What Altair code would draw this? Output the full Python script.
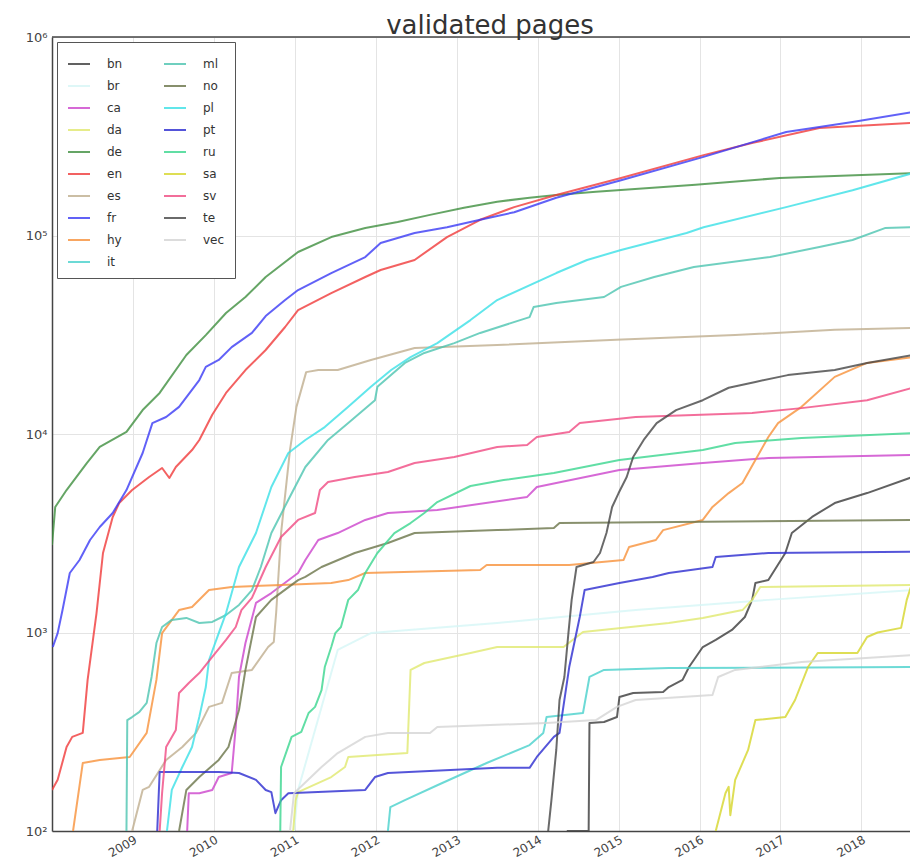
import altair as alt
import pandas as pd

# ---- data (decimal year, validated pages) ----
bn_year = [2014.36, 2014.63, 2014.64, 2014.82, 2014.98, 2015.01, 2015.18, 2015.55, 2015.62, 2015.79, 2015.87, 2016.04,
           2016.20, 2016.40, 2016.56, 2016.65, 2016.69, 2016.85, 2017.06, 2017.14, 2017.39, 2017.67, 2018.07, 2018.63]
bn_val = [100, 100, 350, 354, 375, 473, 496, 501, 531, 577, 670, 845, 917, 1030, 1197, 1460, 1775, 1837, 2515, 3170,
          3820, 4490, 5040, 6070]

br_year = [2010.99, 2011.04, 2011.53, 2011.94, 2013.50, 2015.21, 2016.85, 2018.63]
br_val = [100, 161, 817, 993, 1117, 1297, 1460, 1636]

ca_year = [2009.67, 2009.69, 2009.82, 2009.98, 2010.06, 2010.22, 2010.27, 2010.31, 2010.39, 2010.52, 2010.71, 2011.04,
           2011.13, 2011.29, 2011.53, 2011.87, 2012.15, 2012.76, 2013.87, 2013.99, 2015.01, 2016.04, 2016.85, 2018.63]
ca_val = [100, 155, 155, 161, 187, 196, 334, 597, 885, 1410, 1580, 1994, 2318, 2924, 3170, 3690, 4000, 4140, 4820,
          5410, 6590, 7140, 7570, 7840]

da_year = [2010.98, 2011.01, 2011.04, 2011.45, 2011.62, 2011.66, 2012.39, 2012.43, 2012.60, 2013.17, 2013.50, 2014.32,
           2014.56, 2015.62, 2016.04, 2016.53, 2016.65, 2016.75, 2018.63]
da_val = [100, 143, 157, 187, 210, 236, 247, 648, 702, 788, 845, 845, 1006, 1117, 1184, 1297, 1460, 1695, 1735]

de_year = [2008.00, 2008.04, 2008.18, 2008.43, 2008.59, 2008.92, 2009.12, 2009.33, 2009.66, 2009.90, 2010.15, 2010.39,
           2010.64, 2011.04, 2011.45, 2011.87, 2012.27, 2012.67, 2013.09, 2013.50, 2013.90, 2014.23, 2014.72, 2015.95,
           2016.99, 2018.63]
de_val = [2760, 4290, 5220, 7140, 8610, 10240, 13200, 16100, 25000, 31500, 40700, 49000, 61800, 82600, 98200, 109000,
          117000, 127000, 138000, 148000, 155000, 160000, 166000, 180000, 195000, 206000]

en_year = [2008.00, 2008.07, 2008.18, 2008.25, 2008.38, 2008.44, 2008.55, 2008.63, 2008.75, 2008.83, 2008.99, 2009.20,
           2009.36, 2009.45, 2009.53, 2009.73, 2009.82, 2009.98, 2010.15, 2010.39, 2010.64, 2010.88, 2011.04, 2011.45,
           2011.87, 2012.06, 2012.48, 2012.88, 2013.29, 2013.71, 2014.23, 2015.03, 2016.05, 2016.66, 2017.48, 2018.63]
en_val = [161, 181, 265, 298, 312, 577, 1253, 2515, 3820, 4490, 5220, 6070, 6740, 6000, 6820, 8300, 9330, 12500, 16100,
          21000, 26500, 34600, 42100, 51300, 61800, 67000, 75300, 98200, 120000, 139000, 160000, 195000, 254000, 293000,
          348000, 369000]

es_year = [2008.99, 2009.12, 2009.20, 2009.41, 2009.61, 2009.78, 2009.94, 2010.10, 2010.22, 2010.47, 2010.67, 2010.74,
           2010.77, 2010.83, 2010.94, 2011.02, 2011.14, 2011.29, 2011.53, 2011.94, 2012.48, 2013.50, 2014.97, 2016.44,
           2017.67, 2018.63]
es_val = [100, 161, 167, 228, 265, 312, 422, 442, 625, 648, 845, 896, 1268, 3170, 8300, 13700, 20500, 21000, 21000,
          23600, 27100, 28100, 29800, 31500, 33500, 34200]

fr_year = [2008.01, 2008.07, 2008.13, 2008.22, 2008.34, 2008.47, 2008.59, 2008.75, 2008.92, 2009.12, 2009.24, 2009.41,
           2009.57, 2009.82, 2009.90, 2010.06, 2010.22, 2010.47, 2010.64, 2010.88, 2011.04, 2011.45, 2011.87, 2012.06,
           2012.48, 2012.88, 2013.29, 2013.71, 2014.23, 2015.03, 2016.05, 2017.07, 2017.89, 2018.63]
fr_val = [845, 993, 1297, 1994, 2318, 2924, 3400, 4000, 5220, 8020, 11350, 12180, 13700, 18700, 21800, 23600, 27400,
          32300, 39300, 47300, 53100, 64700, 77900, 91600, 103000, 110000, 120000, 131000, 155000, 190000, 249000,
          332000, 373000, 419000]

hy_year = [2008.26, 2008.38, 2008.59, 2008.96, 2009.17, 2009.29, 2009.36, 2009.57, 2009.73, 2009.94, 2010.22, 2010.83,
           2011.45, 2011.66, 2011.87, 2013.29, 2013.37, 2014.39, 2015.06, 2015.13, 2015.46, 2015.55, 2016.04, 2016.16,
           2016.36, 2016.53, 2016.69, 2016.85, 2016.97, 2017.26, 2017.67, 2018.07, 2018.63]
hy_val = [100, 220, 228, 236, 312, 577, 993, 1297, 1343, 1636, 1695, 1735, 1775, 1837, 1994, 2064, 2188, 2188, 2318,
          2698, 2924, 3280, 3690, 4290, 5040, 5660, 7400, 9660, 11350, 13700, 19400, 22800, 24400]

it_year = [2012.15, 2012.18, 2012.36, 2012.76, 2013.37, 2013.90, 2014.07, 2014.11, 2014.56, 2014.64, 2014.82, 2015.62,
           2018.63]
it_val = [100, 132, 143, 170, 220, 271, 312, 375, 393, 597, 648, 662, 670]

ml_year = [2008.92, 2008.93, 2008.99, 2009.08, 2009.17, 2009.23, 2009.29, 2009.36, 2009.48, 2009.66, 2009.82, 2009.98,
           2010.15, 2010.31, 2010.47, 2010.58, 2010.71, 2010.92, 2011.13, 2011.41, 2011.66, 2011.99, 2012.02, 2012.36,
           2012.60, 2012.97, 2013.29, 2013.90, 2013.95, 2014.23, 2014.82, 2015.03, 2015.44, 2015.93, 2016.87, 2017.48,
           2017.89, 2018.29, 2018.63]
ml_val = [100, 362, 375, 398, 442, 597, 885, 1066, 1157, 1184, 1117, 1131, 1225, 1377, 1636, 2138, 3170, 4660, 6820,
          9330, 11350, 14800, 17300, 22800, 25600, 28700, 32300, 38800, 43600, 45700, 49000, 55100, 61800, 69400,
          77900, 87500, 94900, 109000, 110000]

no_year = [2009.57, 2009.66, 2009.82, 2010.06, 2010.18, 2010.31, 2010.39, 2010.52, 2010.71, 2011.04, 2011.13, 2011.33,
           2011.74, 2012.15, 2012.48, 2013.50, 2014.20, 2014.27, 2018.63]
no_val = [100, 161, 187, 228, 265, 407, 648, 1197, 1460, 1837, 1905, 2138, 2515, 2825, 3170, 3280, 3360, 3560, 3690]

pl_year = [2009.42, 2009.48, 2009.61, 2009.73, 2009.82, 2009.90, 2009.94, 2010.06, 2010.15, 2010.22, 2010.31, 2010.52,
           2010.71, 2010.92, 2011.13, 2011.37, 2011.66, 2011.94, 2012.19, 2012.43, 2012.76, 2013.17, 2013.50, 2014.23,
           2014.61, 2015.03, 2015.84, 2016.05, 2017.07, 2017.89, 2018.63]
pl_val = [100, 161, 210, 265, 375, 531, 727, 993, 1253, 1580, 2138, 3170, 5410, 8020, 9330, 10840, 13700, 17300,
          21000, 24400, 28700, 37500, 47300, 64700, 75300, 84500, 103000, 110000, 139000, 169000, 206000]

pt_year = [2009.30, 2009.33, 2010.06, 2010.31, 2010.52, 2010.64, 2010.71, 2010.76, 2010.83, 2010.92, 2011.87, 2011.99,
           2012.15, 2013.50, 2013.90, 2013.99, 2014.20, 2014.27, 2014.39, 2014.52, 2014.58, 2015.01, 2015.42, 2015.62,
           2016.16, 2016.20, 2016.85, 2018.63]
pt_val = [100, 198, 198, 196, 181, 161, 157, 123, 143, 155, 161, 187, 196, 208, 208, 236, 298, 312, 670, 1197, 1636,
          1775, 1905, 1994, 2138, 2400, 2515, 2550]

ru_year = [2010.82, 2010.83, 2010.96, 2011.08, 2011.17, 2011.25, 2011.33, 2011.37, 2011.45, 2011.50, 2011.57, 2011.66,
           2011.78, 2011.87, 2012.02, 2012.23, 2012.43, 2012.60, 2012.76, 2013.17, 2013.58, 2014.20, 2015.01, 2016.04,
           2016.44, 2017.26, 2018.63]
ru_val = [100, 210, 298, 316, 393, 422, 513, 670, 845, 993, 1066, 1460, 1636, 1994, 2515, 3170, 3560, 4000, 4540, 5470,
          5860, 6360, 7400, 8300, 9010, 9550, 10100]

sa_year = [2016.20, 2016.32, 2016.36, 2016.38, 2016.44, 2016.60, 2016.69, 2017.06, 2017.18, 2017.34, 2017.46, 2017.95,
           2018.07, 2018.20, 2018.49, 2018.56, 2018.63]
sa_val = [100, 155, 167, 120, 181, 256, 362, 375, 457, 670, 788, 788, 949, 1000, 1055, 1460, 1795]

sv_year = [2009.33, 2009.36, 2009.41, 2009.53, 2009.57, 2009.69, 2009.82, 2009.98, 2010.15, 2010.27, 2010.34, 2010.47,
           2010.64, 2010.83, 2011.04, 2011.25, 2011.31, 2011.41, 2011.74, 2012.15, 2012.48, 2012.97, 2013.50, 2013.87,
           2013.99, 2014.39, 2014.52, 2015.21, 2016.65, 2017.26, 2018.07, 2018.63]
sv_val = [100, 155, 265, 323, 496, 557, 625, 753, 917, 1066, 1297, 1493, 2138, 3030, 3690, 4000, 5220, 5730, 6070,
          6440, 7140, 7660, 8610, 8810, 9660, 10240, 11350, 12180, 12760, 13500, 14800, 17100]

te_year = [2014.13, 2014.17, 2014.23, 2014.27, 2014.33, 2014.38, 2014.42, 2014.48, 2014.69, 2014.77, 2014.85, 2014.92,
           2015.00, 2015.10, 2015.18, 2015.31, 2015.47, 2015.71, 2016.04, 2016.36, 2016.69, 2017.09, 2017.67, 2018.07,
           2018.63]
te_val = [100, 143, 256, 457, 597, 993, 1460, 2138, 2266, 2515, 3170, 4290, 5040, 6070, 7660, 9330, 11350, 13200,
          14800, 17100, 18300, 19800, 21000, 22800, 25000]

vec_year = [2010.94, 2010.99, 2011.33, 2011.53, 2011.87, 2012.15, 2012.67, 2012.76, 2014.11, 2014.72, 2014.98, 2015.21,
            2016.16, 2016.23, 2016.44, 2017.26, 2018.63]
vec_val = [100, 155, 210, 247, 298, 312, 312, 334, 350, 362, 422, 457, 484, 597, 648, 710, 770]

langs = ["bn", "br", "ca", "da", "de", "en", "es", "fr", "hy", "it",
         "ml", "no", "pl", "pt", "ru", "sa", "sv", "te", "vec"]
colors = {"bn": "#3a3a3a", "br": "#d6f6f6", "ca": "#cc44cc", "da": "#e0e86e", "de": "#3f8f3f",
          "en": "#f03a3a", "es": "#bfae8e", "fr": "#3a3af5", "hy": "#f7913a", "it": "#48d1cc",
          "ml": "#4cc4b0", "no": "#6a7448", "pl": "#3ae0e6", "pt": "#2a2ad0", "ru": "#3ad68e",
          "sa": "#d6d62a", "sv": "#f04a82", "te": "#454545", "vec": "#d4d4d4"}
widths = {l: 2.0 for l in langs}
widths["it"] = 3.5

series = {
    "bn": (bn_year, bn_val), "br": (br_year, br_val), "ca": (ca_year, ca_val), "da": (da_year, da_val),
    "de": (de_year, de_val), "en": (en_year, en_val), "es": (es_year, es_val), "fr": (fr_year, fr_val),
    "hy": (hy_year, hy_val), "it": (it_year, it_val), "ml": (ml_year, ml_val), "no": (no_year, no_val),
    "pl": (pl_year, pl_val), "pt": (pt_year, pt_val), "ru": (ru_year, ru_val), "sa": (sa_year, sa_val),
    "sv": (sv_year, sv_val), "te": (te_year, te_val), "vec": (vec_year, vec_val),
}

rows = []
for lang in langs:
    ys, vs = series[lang]
    for i, (t, v) in enumerate(zip(ys, vs)):
        rows.append({"lang": lang, "year": t, "pages": v, "idx": i})
df = pd.DataFrame(rows)

FONT = "DejaVu Sans"
FRAME = "#444444"
W, H = 858, 794
ylab = ("datum.value == 100 ? '10²' : datum.value == 1000 ? '10³' : datum.value == 10000 ? '10⁴' : "
        "datum.value == 100000 ? '10⁵' : '10⁶'")

lines = alt.Chart(df).mark_line(clip=True, opacity=0.8, strokeJoin="round").encode(
    x=alt.X("year:Q",
            scale=alt.Scale(domain=[2008.0, 2018.6], nice=False, zero=False),
            axis=alt.Axis(values=list(range(2009, 2019)), format="d", labelAngle=330,
                          labelAlign="right", labelBaseline="top", ticks=False, labelPadding=3,
                          labelFontSize=12, title=None, grid=True, domain=True,
                          domainColor=FRAME, domainWidth=1.5)),
    y=alt.Y("pages:Q",
            scale=alt.Scale(type="log", domain=[100, 1000000], nice=False),
            axis=alt.Axis(values=[100, 1000, 10000, 100000, 1000000], labelExpr=ylab,
                          ticks=False, labelPadding=5, labelFontSize=13, title=None, grid=True,
                          domain=True, domainColor=FRAME, domainWidth=1.5)),
    color=alt.Color("lang:N",
                    scale=alt.Scale(domain=langs, range=[colors[l] for l in langs]),
                    legend=alt.Legend(title=None, orient="none", legendX=5, legendY=5, columns=2,
                                      symbolType="stroke", symbolSize=484, symbolStrokeWidth=2.5,
                                      labelFont=FONT, labelFontSize=12, labelColor="#333",
                                      labelOffset=16, columnPadding=37, rowPadding=4,
                                      padding=10, strokeColor="#555", fillColor="white")),
    strokeWidth=alt.StrokeWidth("lang:N",
                                scale=alt.Scale(domain=langs, range=[widths[l] for l in langs]),
                                legend=None),
    order=alt.Order("idx:Q"),
)

# top edge of the plot frame (the right edge lies beyond the visible picture)
top_edge = alt.Chart(pd.DataFrame({"edge": ["top"]})).mark_rule(
    color=FRAME, strokeWidth=1.5
).encode(x=alt.value(0), x2=alt.value(W), y=alt.value(0))

chart = alt.layer(lines, top_edge).properties(
    width=W, height=H,
    title=alt.TitleParams("validated pages", font=FONT, fontSize=26, fontWeight="normal",
                          color="#333", anchor="middle", offset=1, dy=9, dx=9),
    autosize=alt.AutoSizeParams(type="none"),
    padding={"left": 44, "top": 29, "right": 0, "bottom": 28},
).configure_view(
    stroke=None
).configure_axis(
    labelFont=FONT, labelColor="#444", gridColor="#e4e4e4", gridWidth=1
)

chart.save("out.html", embed_options={"renderer": "svg", "actions": False})
